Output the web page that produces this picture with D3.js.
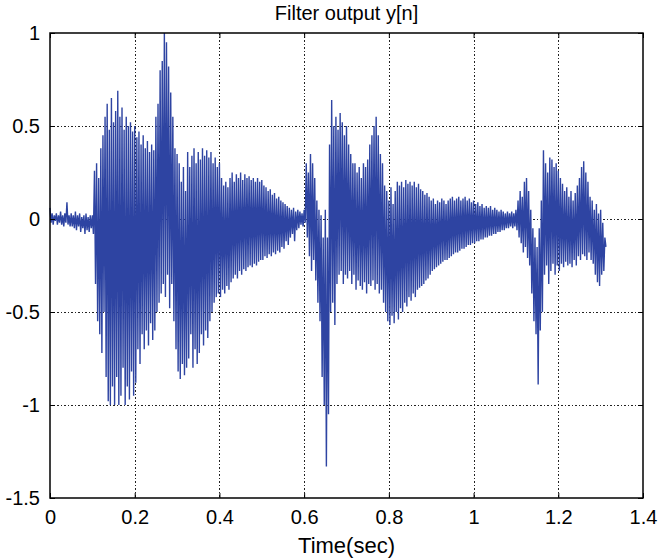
<!DOCTYPE html>
<html lang="en">
<head>
    <meta charset="UTF-8">
    <title>Filter output y[n]</title>
    <script src="https://cdn.jsdelivr.net/npm/d3@7"></script>
    <style>
        body { margin: 0; background: #fff; }
        text { font-family: "Liberation Sans", Arial, Helvetica, sans-serif; fill: #000; }
        .axis path { display: none; }
        .axis line { stroke: #000; }
        .axis text { font-size: 20px; }
        .grid line { stroke: #222; stroke-dasharray: 1.5, 2; shape-rendering: crispEdges; }
        .wave { fill: none; stroke: #2e44a2; stroke-width: 1.4; stroke-linejoin: miter; }
    </style>
</head>
<body>
<script>
	// peaks of the signal, one upper and one lower value per sample step
	var sampleStep = 0.005;
	var upperPeaks = [
		0.06, 0.03, 0.02, 0.03, 0.02, 0.04, 0.02, 0.03, 0.09, 0.02,
		0.03, 0.02, 0.04, 0.02, 0.03, 0.01, 0.02, 0.03, 0.01, 0.02,
		0.02, 0.26, 0.30, 0.22, 0.38, 0.45, 0.55, 0.62, 0.48, 0.65,
		0.52, 0.58, 0.69, 0.55, 0.60, 0.48, 0.55, 0.50, 0.52, 0.47,
		0.50, 0.44, 0.47, 0.40, 0.45, 0.38, 0.42, 0.36, 0.40, 0.37,
		0.55, 0.62, 0.80, 0.85, 1.00, 0.95, 0.82, 0.68, 0.55, 0.38,
		0.35, 0.30, 0.20, 0.28, 0.15, 0.36, 0.28, 0.34, 0.38, 0.30,
		0.36, 0.32, 0.38, 0.34, 0.37, 0.33, 0.36, 0.30, 0.33, 0.28,
		0.30, 0.22, 0.18, 0.20, 0.17, 0.22, 0.25, 0.20, 0.24, 0.22,
		0.25, 0.21, 0.24, 0.22, 0.23, 0.21, 0.22, 0.20, 0.22, 0.20,
		0.21, 0.18, 0.17, 0.15, 0.16, 0.13, 0.14, 0.11, 0.12, 0.10,
		0.09, 0.08, 0.07, 0.06, 0.05, 0.06, 0.04, 0.05, 0.04, 0.03,
		0.05, 0.30, 0.25, 0.35, 0.30, 0.22, 0.10, 0.05, 0.02, -0.10,
		0.05, -0.10, 0.40, 0.64, 0.50, 0.55, 0.48, 0.57, 0.52, 0.45,
		0.50, 0.40, 0.35, 0.30, 0.30, 0.25, 0.28, 0.22, 0.30, 0.28,
		0.32, 0.40, 0.45, 0.50, 0.55, 0.45, 0.35, 0.30, 0.18, 0.15,
		0.10, 0.17, 0.08, 0.15, 0.20, 0.18, 0.20, 0.17, 0.21, 0.19,
		0.20, 0.18, 0.20, 0.17, 0.19, 0.16, 0.15, 0.13, 0.14, 0.12,
		0.10, 0.11, 0.08, 0.10, 0.09, 0.11, 0.10, 0.08, 0.10, 0.11,
		0.12, 0.10, 0.11, 0.12, 0.10, 0.11, 0.12, 0.10, 0.11, 0.09,
		0.10, 0.08, 0.09, 0.07, 0.08, 0.06, 0.07, 0.06, 0.07, 0.05,
		0.06, 0.05, 0.04, 0.05, 0.04, 0.03, 0.04, 0.03, 0.04, 0.03,
		0.05, 0.10, 0.15, 0.12, 0.20, 0.22, 0.15, 0.05, -0.05, -0.10,
		-0.15, -0.05, 0.10, 0.37, 0.30, 0.25, 0.33, 0.32, 0.28, 0.30,
		0.26, 0.22, 0.19, 0.15, 0.17, 0.12, 0.15, 0.10, 0.14, 0.18,
		0.22, 0.28, 0.31, 0.25, 0.20, 0.12, 0.10, 0.05, 0.08, 0.03,
		0.05, -0.02, -0.10
	];
	var lowerPeaks = [
		-0.02, -0.03, -0.01, -0.03, -0.02, -0.03, -0.04, -0.02, -0.03, -0.04,
		-0.04, -0.05, -0.06, -0.04, -0.07, -0.05, -0.08, -0.06, -0.07, -0.05,
		-0.08, -0.35, -0.55, -0.62, -0.72, -0.50, -0.85, -0.98, -1.00, -0.90,
		-1.00, -0.85, -1.00, -0.95, -0.80, -1.00, -0.90, -0.97, -0.82, -0.95,
		-0.88, -0.70, -0.78, -0.62, -0.70, -0.60, -0.68, -0.56, -0.65, -0.60,
		-0.50, -0.45, -0.40, -0.35, -0.42, -0.30, -0.48, -0.35, -0.55, -0.70,
		-0.82, -0.86, -0.78, -0.84, -0.80, -0.75, -0.62, -0.80, -0.70, -0.78,
		-0.72, -0.62, -0.68, -0.60, -0.64, -0.55, -0.50, -0.45, -0.42, -0.40,
		-0.42, -0.38, -0.40, -0.36, -0.38, -0.34, -0.32, -0.30, -0.32, -0.28,
		-0.30, -0.27, -0.28, -0.26, -0.25, -0.26, -0.24, -0.25, -0.23, -0.22,
		-0.22, -0.20, -0.21, -0.19, -0.20, -0.18, -0.19, -0.17, -0.18, -0.15,
		-0.16, -0.12, -0.14, -0.10, -0.08, -0.12, -0.06, -0.05, -0.03, -0.04,
		-0.02, -0.10, -0.20, -0.28, -0.22, -0.33, -0.45, -0.55, -0.85, -1.00,
		-1.33, -1.05, -0.50, -0.45, -0.57, -0.35, -0.30, -0.28, -0.35, -0.30,
		-0.32, -0.28, -0.35, -0.30, -0.38, -0.33, -0.36, -0.38, -0.34, -0.40,
		-0.35, -0.36, -0.33, -0.38, -0.35, -0.40, -0.38, -0.45, -0.50, -0.55,
		-0.57, -0.52, -0.56, -0.50, -0.54, -0.48, -0.50, -0.45, -0.47, -0.42,
		-0.44, -0.40, -0.42, -0.38, -0.37, -0.36, -0.35, -0.33, -0.32, -0.30,
		-0.28, -0.27, -0.26, -0.25, -0.24, -0.23, -0.22, -0.22, -0.21, -0.20,
		-0.19, -0.18, -0.18, -0.17, -0.16, -0.16, -0.15, -0.14, -0.14, -0.13,
		-0.13, -0.12, -0.12, -0.11, -0.11, -0.10, -0.10, -0.09, -0.09, -0.08,
		-0.08, -0.07, -0.07, -0.06, -0.06, -0.05, -0.05, -0.04, -0.05, -0.04,
		-0.06, -0.10, -0.13, -0.18, -0.15, -0.21, -0.25, -0.40, -0.55, -0.62,
		-0.89, -0.60, -0.50, -0.30, -0.25, -0.35, -0.28, -0.24, -0.30, -0.25,
		-0.28, -0.24, -0.26, -0.23, -0.25, -0.24, -0.26, -0.22, -0.25, -0.20,
		-0.22, -0.19, -0.20, -0.22, -0.18, -0.22, -0.24, -0.30, -0.34, -0.36,
		-0.30, -0.28, -0.15
	];
	var xTicks = [0, 0.2, 0.4, 0.6, 0.8, 1, 1.2, 1.4];
	var yTicks = [-1.5, -1, -0.5, 0, 0.5, 1];

	var width = 659, height = 560;
	var margin = {left: 50, right: 16, top: 33, bottom: 62};
	var plotW = width - margin.left - margin.right;
	var plotH = height - margin.top - margin.bottom;

	var svg = d3.select("body")
		.append("svg")
		.attr("width", width)
		.attr("height", height);

	var xScale = d3.scaleLinear().domain([0, 1.4]).range([0, plotW]);
	var yScale = d3.scaleLinear().domain([-1.5, 1]).range([plotH, 0]);

	var g = svg.append("g")
		.attr("transform", "translate(" + margin.left + "," + margin.top + ")");

	// dotted grid
	g.append("g")
		.attr("class", "grid")
		.selectAll("line.v")
		.data(xTicks.slice(1, -1))
		.enter()
		.append("line")
		.attr("x1", function (d) { return Math.round(xScale(d)) + 0.5; })
		.attr("x2", function (d) { return Math.round(xScale(d)) + 0.5; })
		.attr("y1", 0)
		.attr("y2", plotH);
	g.append("g")
		.attr("class", "grid")
		.selectAll("line.h")
		.data(yTicks.slice(1, -1))
		.enter()
		.append("line")
		.attr("x1", 0)
		.attr("x2", plotW)
		.attr("y1", function (d) { return Math.round(yScale(d)) + 0.5; })
		.attr("y2", function (d) { return Math.round(yScale(d)) + 0.5; });

	// the signal: upper and lower peaks alternate
	var points = [];
	upperPeaks.forEach(function (v, i) {
		points.push([i * sampleStep, v]);
		points.push([i * sampleStep + sampleStep / 2, lowerPeaks[i]]);
	});
	var line = d3.line()
		.x(function (d) { return xScale(d[0]); })
		.y(function (d) { return yScale(d[1]); });
	g.append("path")
		.attr("class", "wave")
		.attr("d", line(points));

	// axes with inward ticks
	var fmt = function (d) { return String(d); };
	g.append("g")
		.attr("class", "axis")
		.attr("transform", "translate(0," + plotH + ")")
		.call(d3.axisBottom(xScale).tickValues(xTicks).tickFormat(fmt).tickSizeInner(-5).tickPadding(12));
	g.append("g")
		.attr("class", "axis")
		.call(d3.axisLeft(yScale).tickValues(yTicks).tickFormat(fmt).tickSizeInner(-5).tickPadding(10));
	g.append("g")
		.attr("class", "axis")
		.call(d3.axisTop(xScale).tickValues(xTicks).tickFormat("").tickSizeInner(-5));
	g.append("g")
		.attr("class", "axis")
		.attr("transform", "translate(" + plotW + ",0)")
		.call(d3.axisRight(yScale).tickValues(yTicks).tickFormat("").tickSizeInner(-5));

	// box
	g.append("rect")
		.attr("width", plotW)
		.attr("height", plotH)
		.attr("fill", "none")
		.attr("stroke", "#000")
		.attr("stroke-width", 1.5);

	svg.append("text")
		.attr("x", margin.left + plotW / 2)
		.attr("y", 20)
		.attr("text-anchor", "middle")
		.attr("font-size", 20)
		.text("Filter output y[n]");

	svg.append("text")
		.attr("x", margin.left + plotW / 2)
		.attr("y", 553)
		.attr("text-anchor", "middle")
		.attr("font-size", 22)
		.text("Time(sec)");
</script>
</body>
</html>
